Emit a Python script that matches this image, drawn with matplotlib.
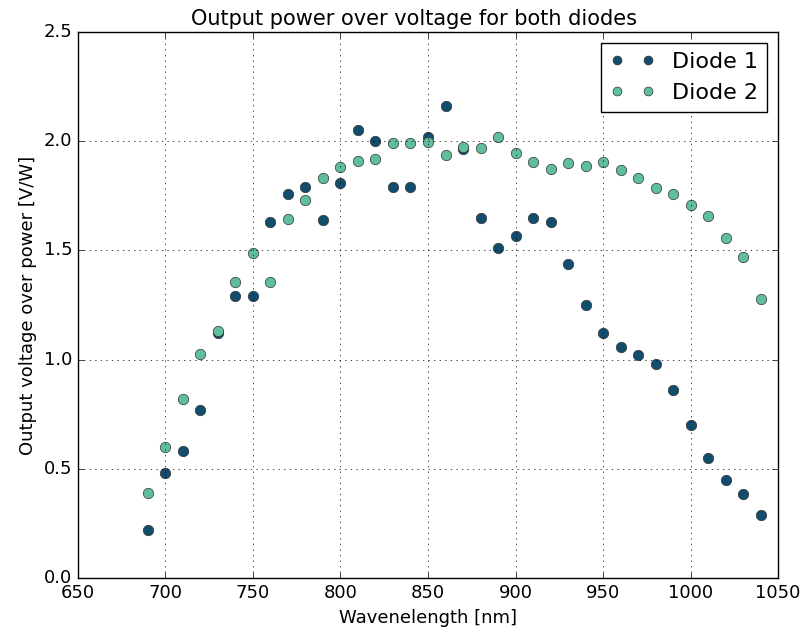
import numpy as np
import matplotlib
matplotlib.use('Agg')
import matplotlib.pyplot as plt

plt.style.use('classic')

# wavelength [nm]
wavelength = np.arange(690, 1041, 10)

diode1 = [0.22, 0.48, 0.58, 0.77, 1.12, 1.29, 1.29, 1.63, 1.76, 1.79,
          1.64, 1.81, 2.05, 2.00, 1.79, 1.79, 2.02, 2.16, 1.965, 1.65,
          1.51, 1.565, 1.65, 1.63, 1.44, 1.25, 1.12, 1.06, 1.02, 0.98,
          0.86, 0.70, 0.55, 0.45, 0.385, 0.29]
diode2 = [0.39, 0.60, 0.82, 1.025, 1.13, 1.355, 1.49, 1.355, 1.645, 1.73,
          1.83, 1.88, 1.91, 1.92, 1.99, 1.99, 1.995, 1.935, 1.975, 1.97,
          2.02, 1.945, 1.905, 1.875, 1.90, 1.885, 1.905, 1.87, 1.83, 1.785,
          1.76, 1.71, 1.66, 1.555, 1.47, 1.28]

fig = plt.figure(figsize=(8.03, 6.37), dpi=100, facecolor='white')
ax = fig.add_axes([0.097, 0.0926, 0.872, 0.857])

ax.plot(wavelength, diode1, 'o', color='#124d6d', markeredgecolor='#333333',
        markersize=7.5, label='Diode 1')
ax.plot(wavelength, diode2, 'o', color='#5fbf9c', markeredgecolor='#333333',
        markersize=7.5, label='Diode 2')

ax.set_xlim(650, 1050)
ax.set_ylim(0, 2.5)
ax.grid(True)
ax.set_title('Output power over voltage for both diodes', fontsize=15, x=0.48)
ax.set_xlabel('Wavenelength [nm]', fontsize=13)
ax.set_ylabel('Output voltage over power [V/W]', fontsize=13)
ax.tick_params(labelsize=13)
ax.legend(loc='upper right', numpoints=2, fontsize=16, markerscale=0.85)

fig.savefig('out.png', dpi=100, facecolor='white')
